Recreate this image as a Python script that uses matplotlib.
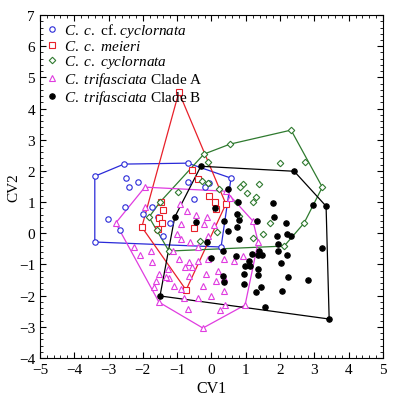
import matplotlib

matplotlib.use("Agg")
import matplotlib.pyplot as plt
import numpy as np
from matplotlib.ticker import MultipleLocator

plt.rcParams["font.family"] = ["Liberation Serif", "DejaVu Serif"]
plt.rcParams["mathtext.fontset"] = "custom"
plt.rcParams["mathtext.rm"] = "Liberation Serif"
plt.rcParams["mathtext.it"] = "Liberation Serif:italic"

# valores CV1 / CV2
cf_x = [-3.40, -2.55, -0.69, 0.57, 0.28, -3.40, -2.50, -2.15, -2.41, -2.53, -3.02,
        -2.67, -2.00, -1.74, -1.56, -1.21, -1.42, -0.69, -0.51, -0.19, -0.07]
cf_y = [1.83, 2.22, 2.25, 1.77, -0.44, -0.28, 1.77, 1.64, 1.48, 0.84, 0.46,
        0.10, 0.62, 0.84, 0.52, 0.33, -0.09, 1.64, 1.10, 1.48, 1.61]

meieri_x = [-0.95, 0.42, -0.74, -2.03, -0.57, -0.39, -0.07, 0.10, 0.13, -0.51,
            -1.47, -1.42, -1.53, -1.45, -1.56]
meieri_y = [4.53, 0.94, -1.82, 0.20, 2.03, 1.74, 1.19, 1.00, 0.78, 0.17,
            1.00, 0.74, 0.49, 0.33, 0.13]

cyc_x = [-1.82, -0.22, 0.54, 2.32, 3.23, 2.70, 2.12, -1.24, -1.50, -0.98, -1.59,
         -0.34, 0.16, -0.10, -0.28, -0.10, 0.22, 0.92, 0.83, 1.39, 1.04, 1.30,
         1.21, 0.74, 0.80, 1.71, 1.50, 1.21, 2.00, 2.73]
cyc_y = [0.52, 2.54, 2.86, 3.31, 1.48, 0.33, -0.41, -0.57, 1.00, 1.32, 0.10,
         -0.25, 0.04, 2.28, 1.67, 1.61, 1.42, 1.58, 1.48, 1.58, 1.29, 1.16,
         1.00, 1.00, 0.55, 0.33, -0.03, -0.15, 2.25, 2.28]

claA_x = [-1.94, 0.42, 1.21, 1.36, 0.98, -0.25, -1.53, -2.79,
          -0.92, -0.72, -0.45, -0.13, -0.22, 0.07, -0.89, -1.01, -0.89, -0.63,
          -0.10, -0.39, -2.26, -2.09, -1.77, -1.74, -1.12, -0.95, -0.66, -0.57,
          -0.39, -0.77, -0.10, 0.19, 0.36, 0.66, 0.92, -1.53, -1.68, -1.62,
          -1.24, -1.09, -0.66, -0.89, -0.25, 0.13, 0.36, -0.39, -0.01, -0.80,
          -0.69, 0.39, -1.94, -1.33, 0.36, 0.25, -0.16, 0.54, -1.27]
claA_y = [1.48, 1.35, 0.39, -0.28, -2.30, -3.04, -2.21, 0.33,
          0.94, 0.71, 0.58, 0.52, 0.29, 0.26, 0.29, -0.03, -0.19, -0.28,
          -0.09, -0.44, -0.44, -0.70, -0.57, -0.92, -0.57, -0.83, -0.92, -1.08,
          -0.89, -1.08, -0.83, -1.21, -0.83, -0.89, -0.73, -1.31, -1.72, -1.53,
          -1.44, -1.69, -1.37, -1.79, -1.69, -1.53, -1.44, -2.08, -2.01, -2.08,
          -2.43, -2.30, 0.84, -1.40, -1.85, -2.46, -1.31, 1.13, -1.15]

claB_x = [-0.31, 2.41, 3.34, 3.43, -1.50, -1.07, 0.48, 0.77, 0.10, 2.96, 1.80,
          1.82, 2.18, 0.74, 0.80, 1.33, 0.48, 0.74, 2.20, 2.32, 1.91, 1.94, 0.80,
          3.23, 0.36, -0.13, 1.39, 1.94, 2.20, 1.18, 1.36, 1.47, 2.03, 1.09, 0.34,
          -0.01, 0.72, 0.98, 1.12, 1.36, 0.95, 1.36, 0.34, 0.36, 0.95, 1.45, 1.30,
          2.06, 2.23, 2.82, 1.56, -0.45]
claB_y = [2.15, 1.99, 0.87, -2.75, -2.01, 0.52, 1.42, 1.00, 0.81, 0.90, 0.97,
          0.52, 0.33, 0.62, 0.42, 0.39, 0.07, 0.20, -0.03, -0.09, -0.09, -0.35, -0.19,
          -0.47, 0.39, -0.28, -0.57, -0.57, -0.70, -0.67, -0.70, -0.70, -0.96, -0.89, -0.57,
          -0.79, -0.73, -1.05, -1.05, -1.15, -1.31, -1.34, -1.37, -1.56, -1.63, -1.72, -1.88,
          -1.85, -1.40, -1.50, -2.37, 0.36]


def envolvente(xs, ys):
    """Envolvente convexa (cadena monotona), devuelve el poligono cerrado."""
    puntos = sorted(set(zip(xs, ys)))

    def cruz(o, a, b):
        return (a[0] - o[0]) * (b[1] - o[1]) - (a[1] - o[1]) * (b[0] - o[0])

    inferior = []
    for p in puntos:
        while len(inferior) >= 2 and cruz(inferior[-2], inferior[-1], p) <= 0:
            inferior.pop()
        inferior.append(p)
    superior = []
    for p in reversed(puntos):
        while len(superior) >= 2 and cruz(superior[-2], superior[-1], p) <= 0:
            superior.pop()
        superior.append(p)
    casco = inferior[:-1] + superior[:-1]
    casco.append(casco[0])
    return np.array(casco)


grupos = [
    (cf_x, cf_y, "#2a2ad8", "o", False, r"$\it{C.\ c.}$ cf. $\it{cyclornata}$"),
    (meieri_x, meieri_y, "#e8202a", "s", False, r"$\it{C.\ c.\ meieri}$"),
    (cyc_x, cyc_y, "#2f7a2f", "D", False, r"$\it{C.\ c.\ cyclornata}$"),
    (claA_x, claA_y, "#e03ce0", "^", False, r"$\it{C.\ trifasciata}$ Clade A"),
    (claB_x, claB_y, "black", "o", True, r"$\it{C.\ trifasciata}$ Clade B"),
]

fig = plt.figure(figsize=(3.99, 4.02), dpi=100)
ax = fig.add_axes([0.100, 0.107, 0.860, 0.853])

for xs, ys, color, marker, lleno, etiqueta in grupos:
    casco = envolvente(xs, ys)
    ax.plot(casco[:, 0], casco[:, 1], color=color, lw=0.9, zorder=2)
    tam = 3.3 if marker == "D" else 3.9
    ax.plot(xs, ys, linestyle="none", marker=marker, markersize=tam,
            markerfacecolor=color if lleno else "white", markeredgecolor=color,
            markeredgewidth=0.8, label=etiqueta, zorder=3)

ax.set_xlim(-5, 5)
ax.set_ylim(-4, 7)
ax.xaxis.set_major_locator(MultipleLocator(1))
ax.yaxis.set_major_locator(MultipleLocator(1))
ax.xaxis.set_minor_locator(MultipleLocator(0.2))
ax.yaxis.set_minor_locator(MultipleLocator(0.2))
ax.tick_params(which="both", direction="in", top=True, right=True, labelsize=11)
ax.tick_params(which="major", length=4, width=0.8)
ax.tick_params(which="minor", length=2, width=0.6)
ax.set_xlabel("CV1", fontsize=11.5, labelpad=3)
ax.set_ylabel("CV2", fontsize=11)
ax.yaxis.set_label_coords(-0.058, 0.5)

ax.legend(loc="upper left", bbox_to_anchor=(0.0, 1.0), frameon=False,
          fontsize=11, handlelength=0.8, handletextpad=0.4,
          labelspacing=0.0, borderpad=0.2, borderaxespad=0.2)

fig.savefig("out.png", dpi=100)
plt.close(fig)
